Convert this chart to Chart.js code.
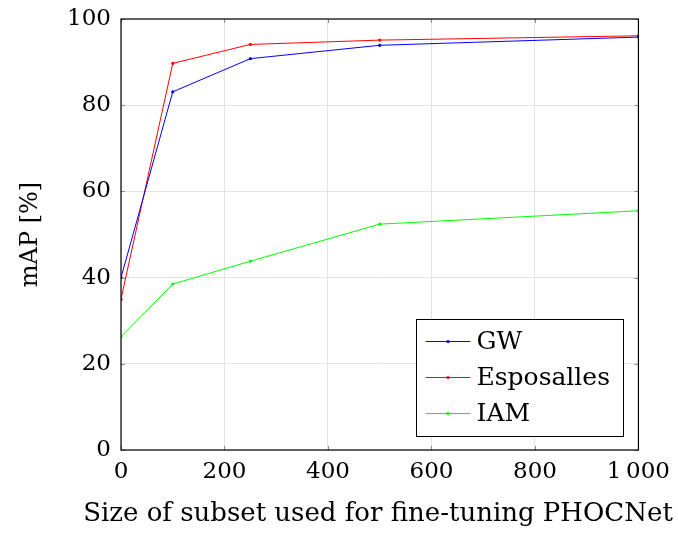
<!DOCTYPE html>
<html>
<head>
<meta charset="utf-8">
<script src="https://cdn.jsdelivr.net/npm/chart.js@4"></script>
<style>
  html, body { margin: 0; padding: 0; background: #fff; }
  #wrap { width: 678px; height: 533px; }
</style>
</head>
<body>
<div id="wrap"><canvas id="myChart" width="678" height="533"></canvas></div>
<script>
// subset sizes and mAP values
const subsetSizes = [0, 100, 250, 500, 1000];
const gwValues = [40.0, 83.1, 90.8, 93.9, 95.8];
const esposallesValues = [35.0, 89.7, 94.1, 95.1, 96.1];
const iamValues = [26.3, 38.5, 43.8, 52.4, 55.5];
const seriesNames = ['GW', 'Esposalles', 'IAM'];
const seriesColors = ['rgb(0, 0, 255)', 'rgb(255, 0, 0)', 'rgb(0, 255, 0)'];
const xTitle = 'Size of subset used for fine-tuning PHOCNet';

const serif = "'DejaVu Serif', 'Liberation Serif', serif";

function toPoints(values) {
  return subsetSizes.map((x, i) => ({ x: x, y: values[i] }));
}

const data = {
  datasets: [gwValues, esposallesValues, iamValues].map((values, i) => ({
    label: seriesNames[i],
    data: toPoints(values),
    borderColor: seriesColors[i],
    backgroundColor: seriesColors[i],
    borderWidth: 1,
    pointRadius: 1.6,
    pointHoverRadius: 1.6,
    pointBorderWidth: 0,
    tension: 0
  }))
};

// box around the plot, small inner ticks, x title (wider than the plot) and the legend
const framePlugin = {
  id: 'frame',
  afterDraw(chart) {
    const { ctx, chartArea: a, scales } = chart;
    ctx.save();
    ctx.strokeStyle = '#8a8a8a';
    ctx.lineWidth = 1;
    const tick = 4;
    scales.x.ticks.forEach(t => {
      const px = Math.round(scales.x.getPixelForValue(t.value)) + 0.5;
      ctx.beginPath();
      ctx.moveTo(px, a.bottom); ctx.lineTo(px, a.bottom - tick);
      ctx.moveTo(px, a.top); ctx.lineTo(px, a.top + tick);
      ctx.stroke();
    });
    scales.y.ticks.forEach(t => {
      const py = Math.round(scales.y.getPixelForValue(t.value)) + 0.5;
      ctx.beginPath();
      ctx.moveTo(a.left, py); ctx.lineTo(a.left + tick, py);
      ctx.moveTo(a.right, py); ctx.lineTo(a.right - tick, py);
      ctx.stroke();
    });

    ctx.strokeStyle = '#000';
    ctx.lineWidth = 1.2;
    ctx.strokeRect(a.left, a.top, a.right - a.left, a.bottom - a.top);

    // x axis title, drawn here so it is not squeezed to the plot width
    ctx.fillStyle = '#000';
    ctx.font = '26px ' + serif;
    ctx.textAlign = 'center';
    ctx.textBaseline = 'alphabetic';
    ctx.fillText(xTitle, 378, 521);

    // legend box
    const bx = 416.5, by = 319.5, bw = 207, bh = 117;
    ctx.fillStyle = '#fff';
    ctx.fillRect(bx, by, bw, bh);
    ctx.strokeStyle = '#000';
    ctx.lineWidth = 1;
    ctx.strokeRect(bx, by, bw, bh);
    ctx.font = '25px ' + serif;
    ctx.textAlign = 'left';
    ctx.textBaseline = 'middle';
    chart.data.datasets.forEach((ds, i) => {
      const y = by + 22 + i * 36;
      ctx.strokeStyle = ds.borderColor;
      ctx.beginPath();
      ctx.moveTo(bx + 9, y); ctx.lineTo(bx + 54, y);
      ctx.stroke();
      ctx.fillStyle = ds.borderColor;
      ctx.beginPath();
      ctx.arc(bx + 31.5, y, 1.6, 0, Math.PI * 2);
      ctx.fill();
      ctx.fillStyle = '#000';
      ctx.fillText(ds.label, bx + 60, y + 1);
    });
    ctx.restore();
  }
};

const options = {
  responsive: false,
  animation: false,
  layout: { padding: { left: 0, top: 19, right: 38, bottom: 0 } },
  plugins: {
    legend: { display: false },
    tooltip: { enabled: false }
  },
  scales: {
    x: {
      type: 'linear',
      min: 0,
      max: 1000,
      afterFit(scale) { scale.height = 83; },
      border: { display: false },
      grid: { color: '#e3e3e3', drawTicks: false },
      ticks: {
        stepSize: 200,
        padding: 8,
        color: '#000',
        maxRotation: 0,
        font: { family: serif, size: 23 },
        callback: v => v >= 1000 ? (Math.floor(v / 1000) + '\u2009' + String(v % 1000).padStart(3, '0')) : String(v)
      },
      title: { display: false }
    },
    y: {
      min: 0,
      max: 100,
      afterFit(scale) {
        scale.width = 121;
        scale.paddingTop = 0;
        scale.paddingBottom = 0;
      },
      border: { display: false },
      grid: { color: '#e3e3e3', drawTicks: false },
      ticks: {
        stepSize: 20,
        padding: 10,
        color: '#000',
        font: { family: serif, size: 23, lineHeight: 0.8 }
      },
      title: {
        display: true,
        text: 'mAP [%]',
        color: '#000',
        font: { family: serif, size: 24 },
        padding: { top: 16, bottom: 0 }
      }
    }
  }
};

const ctx = document.getElementById('myChart');
const mapChart = new Chart(ctx, {
  type: 'line',
  data: data,
  options: options,
  plugins: [framePlugin]
});
</script>
</body>
</html>
